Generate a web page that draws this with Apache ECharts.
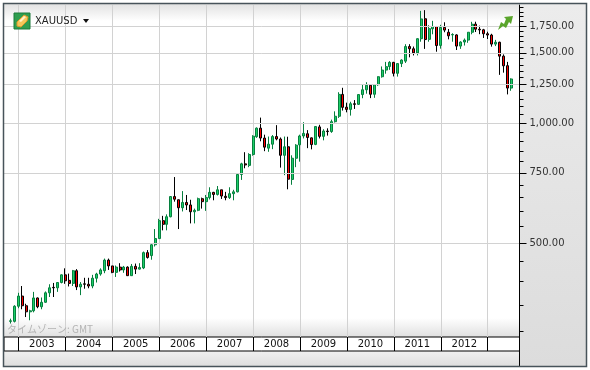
<!DOCTYPE html>
<html>
<head>
<meta charset="utf-8">
<title>XAUUSD</title>
<script src="https://cdn.jsdelivr.net/npm/echarts@6/dist/echarts.min.js"></script>
<style>
  html, body { margin: 0; padding: 0; background: #fff; }
  #chart { width: 590px; height: 370px; }
</style>
</head>
<body>
<div id="chart"></div>
<script>
// monthly candles, Nov 2002 - Jul 2013
const startYear = 2002;
const months = [];
for (let y = startYear, m = 11; y < 2013 || m <= 7; m++) {
  if (m > 12) { m = 1; y++; }
  months.push(y + '-' + String(m).padStart(2, '0'));
}

const opens = [
  318, 318,
  347, 368, 348, 336, 338, 364, 346, 355, 375, 387, 386, 398,
  416, 403, 396, 426, 388, 395, 394, 390, 408, 418, 426, 453,
  438, 422, 435, 428, 435, 414, 437, 430, 433, 473, 465, 495,
  513, 569, 557, 582, 654, 642, 613, 632, 623, 599, 604, 646,
  635, 650, 670, 662, 680, 655, 650, 665, 672, 743, 790, 783,
  834, 924, 971, 917, 865, 885, 925, 912, 830, 872, 722, 816,
  882, 928, 940, 918, 884, 978, 926, 955, 952, 1008, 1040, 1180,
  1096, 1082, 1118, 1114, 1179, 1212, 1244, 1181, 1248, 1307, 1358, 1386,
  1420, 1333, 1410, 1430, 1556, 1536, 1500, 1628, 1827, 1622, 1724, 1747,
  1566, 1738, 1690, 1664, 1664, 1560, 1597, 1615, 1690, 1771, 1720, 1714,
  1675, 1663, 1578, 1595, 1472, 1393, 1224
];
const closes = [
  319, 347,
  368, 348, 336, 338, 364, 346, 355, 375, 386, 386, 398, 416,
  402, 396, 426, 388, 394, 394, 390, 408, 418, 428, 453, 438,
  422, 435, 428, 435, 414, 437, 430, 434, 473, 460, 495, 513,
  569, 557, 582, 654, 644, 613, 632, 623, 599, 604, 646, 635,
  650, 670, 662, 680, 656, 650, 665, 672, 743, 790, 785, 834,
  927, 971, 917, 870, 885, 925, 912, 830, 872, 723, 816, 880,
  928, 942, 920, 883, 980, 926, 955, 952, 1008, 1040, 1180, 1095,
  1082, 1118, 1114, 1179, 1212, 1244, 1181, 1247, 1307, 1358, 1385, 1420,
  1333, 1410, 1439, 1556, 1536, 1500, 1628, 1825, 1620, 1725, 1747, 1565,
  1737, 1711, 1655, 1668, 1560, 1597, 1615, 1690, 1770, 1720, 1713, 1675,
  1663, 1578, 1595, 1472, 1392, 1224, 1290
];
const lows = [
  314, 316,
  343, 341, 326, 320, 335, 343, 341, 354, 366, 366, 377, 396,
  395, 389, 390, 381, 370, 384, 385, 385, 398, 414, 420, 428,
  420, 411, 424, 421, 414, 414, 418, 429, 430, 457, 454, 490,
  513, 538, 538, 580, 635, 542, 600, 605, 560, 560, 601, 610,
  602, 643, 640, 658, 645, 640, 645, 640, 670, 720, 770, 775,
  828, 918, 900, 850, 847, 860, 905, 773, 740, 682, 700, 775,
  800, 915, 865, 859, 880, 915, 905, 930, 945, 1003, 1030, 1075,
  1064, 1044, 1085, 1110, 1154, 1185, 1155, 1157, 1240, 1300, 1330, 1360,
  1309, 1308, 1382, 1415, 1462, 1478, 1478, 1600, 1535, 1600, 1670, 1510,
  1537, 1690, 1622, 1600, 1525, 1535, 1565, 1590, 1670, 1692, 1671, 1635,
  1625, 1555, 1560, 1321, 1338, 1180, 1205
];
const highs = [
  323, 349,
  375, 390, 352, 340, 377, 365, 365, 378, 394, 397, 399, 417,
  432, 419, 428, 430, 399, 409, 409, 416, 421, 432, 457, 457,
  430, 439, 445, 438, 437, 443, 444, 445, 476, 480, 497, 542,
  575, 585, 590, 656, 732, 643, 675, 660, 642, 610, 650, 650,
  660, 690, 672, 695, 680, 672, 690, 680, 745, 795, 845, 840,
  932, 975, 1032, 935, 925, 933, 988, 920, 925, 924, 830, 885,
  935, 1005, 960, 920, 983, 990, 965, 970, 1020, 1070, 1195, 1226,
  1125, 1131, 1142, 1180, 1249, 1266, 1245, 1250, 1310, 1387, 1424, 1430,
  1424, 1411, 1445, 1577, 1577, 1556, 1632, 1912, 1920, 1760, 1805, 1750,
  1764, 1790, 1722, 1680, 1670, 1604, 1630, 1692, 1795, 1796, 1755, 1723,
  1695, 1675, 1617, 1600, 1487, 1424, 1295
];

const yearTicks = months.map((m, i) => (m.endsWith('-01') ? i : -1)).filter(i => i >= 0);
const yearLabels = months.map((m, i) => (m.endsWith('-07') && m < '2013' ? i : -1)).filter(i => i >= 0);
const priceLabels = [500, 750, 1000, 1250, 1500, 1750];
const priceMinor = [300, 350, 400, 450, 550, 600, 650, 700, 800, 850, 900, 950, 1050, 1100, 1150, 1200,
  1300, 1350, 1400, 1450, 1550, 1600, 1650, 1700, 1800, 1850, 1900, 1950];

const xMin = -1.655;
const xMax = 130.12;
const yMin = 290.5;
const yMax = 1978;

const chart = echarts.init(document.getElementById('chart'));
const font = '"DejaVu Sans", sans-serif';

const grad = (a, b) => new echarts.graphic.LinearGradient(0, 0, 0, 1, [
  { offset: 0, color: a }, { offset: 1, color: b }
]);

chart.setOption({
  animation: false,
  backgroundColor: '#fff',
  grid: [
    { left: 4, top: 5, width: 515.5, height: 332 },
    { left: 4, top: 337, width: 515.5, height: 14, show: true, borderColor: '#000', borderWidth: 1 },
    { left: 4, top: 5, width: 515.5, height: 332 } // minor price ticks
  ],
  xAxis: [
    {
      type: 'value', gridIndex: 0, min: xMin, max: xMax,
      axisLine: { show: false, onZero: false },
      axisTick: { show: false, customValues: yearTicks },
      axisLabel: { show: false },
      splitLine: { show: true, lineStyle: { color: '#d2d2d2', width: 1 } }
    },
    {
      type: 'value', gridIndex: 1, position: 'top', min: xMin, max: xMax,
      axisLine: { show: false, onZero: false },
      axisTick: { show: true, inside: true, length: 14, customValues: yearTicks, lineStyle: { color: '#000' } },
      axisLabel: {
        show: true, inside: true, margin: 2, color: '#111', fontFamily: font, fontSize: 10,
        customValues: yearLabels,
        formatter: v => months[v].slice(0, 4)
      },
      splitLine: { show: false }
    },
    { type: 'value', gridIndex: 2, min: xMin, max: xMax, show: false, splitLine: { show: false } }
  ],
  yAxis: [
    {
      type: 'log', gridIndex: 0, position: 'right', min: yMin, max: yMax, z: 6,
      axisLine: { show: true, onZero: false, lineStyle: { color: '#000' } },
      axisTick: { show: true, length: 7, customValues: priceLabels, lineStyle: { color: '#000' } },
      axisLabel: {
        show: true, margin: 10, color: '#333', fontFamily: font, fontSize: 10,
        customValues: priceLabels,
        formatter: v => Math.round(v).toLocaleString('en-US') + '.00'
      },
      splitLine: { show: true, lineStyle: { color: '#d2d2d2', width: 1 } }
    },
    { type: 'value', gridIndex: 1, show: false, splitLine: { show: false } },
    {
      type: 'log', gridIndex: 2, position: 'right', min: yMin, max: yMax, z: 6,
      axisLine: { show: false, onZero: false },
      axisTick: { show: true, length: 4, customValues: priceMinor, lineStyle: { color: '#000' } },
      axisLabel: { show: false },
      splitLine: { show: false }
    }
  ],
  series: [
    {
      type: 'candlestick',
      xAxisIndex: 0,
      yAxisIndex: 0,
      barWidth: 2.5, // keeps every body the same pixel width after snapping
      encode: { x: 0, y: [1, 2, 3, 4] },
      data: months.map((m, i) => [i, opens[i], closes[i], lows[i], highs[i]]),
      itemStyle: {
        color: '#1ccf68',
        borderColor: '#067f3e',
        color0: '#ff0000',
        borderColor0: '#000',
        borderWidth: 1
      }
    }
  ],
  graphic: [
    // chart header / footer shading
    { type: 'rect', z: -1, shape: { x: 4, y: 4, width: 515, height: 17 }, style: { fill: grad('#e2e2e2', '#ffffff') } },
    { type: 'rect', z: -1, shape: { x: 4, y: 318, width: 515, height: 19 }, style: { fill: grad('#ffffff', '#e0e0e0') } },
    // right price panel and bottom band
    { type: 'rect', z: -1, shape: { x: 519, y: 4, width: 68, height: 362 }, style: { fill: grad('#ececec', '#dcdcdc') } },
    { type: 'rect', z: -1, shape: { x: 4, y: 351, width: 515, height: 15 }, style: { fill: grad('#f0f0f0', '#dedede') } },
    // frame
    { type: 'line', z: 7, shape: { x1: 519.5, y1: 337, x2: 519.5, y2: 366 }, style: { stroke: '#000', lineWidth: 1 } },
    { type: 'rect', z: 8, shape: { x: 3.5, y: 3.5, width: 583, height: 363 }, style: { fill: 'none', stroke: '#47535a', lineWidth: 1.5 } },
    // symbol badge
    { type: 'rect', z: 9, shape: { x: 14, y: 13, width: 16, height: 16 }, style: { fill: '#2f9e4f', stroke: '#1d7a3a', lineWidth: 1 } },
    { type: 'polygon', z: 9, shape: { points: [[17, 22], [24, 15], [28, 17], [27, 21], [21, 27], [17, 26]] }, style: { fill: '#f6c75a', stroke: '#d99a2b', lineWidth: 1 } },
    { type: 'polygon', z: 9, shape: { points: [[19, 21], [24, 16], [26, 17], [21, 22]] }, style: { fill: '#fff3c8' } },
    { type: 'text', z: 9, style: { x: 35, y: 21, text: 'XAUUSD', font: '10px ' + font, fill: '#222', textVerticalAlign: 'middle' } },
    { type: 'polygon', z: 9, shape: { points: [[83, 19], [89, 19], [86, 23]] }, style: { fill: '#111' } },
    // trend arrow
    { type: 'polygon', z: 9, shape: { points: [[498, 30], [501, 22], [504, 24], [506, 19], [504, 17], [513, 16], [511, 24], [509, 22], [506, 28], [503, 26]] }, style: { fill: '#5aa52c' } },
    // time zone note
    { type: 'text', z: 9, style: { x: 7, y: 329, text: 'タイムゾーン: GMT', font: '10px "Noto Sans CJK JP", ' + font, fill: '#b4b4b4', textVerticalAlign: 'middle' } }
  ]
});
</script>
</body>
</html>
